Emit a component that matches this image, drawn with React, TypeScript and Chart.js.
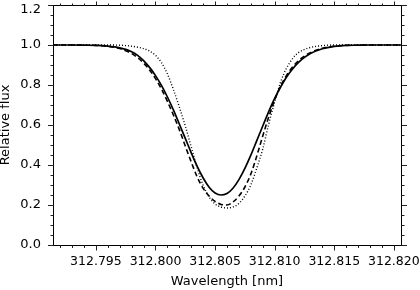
import React, { useEffect, useRef } from 'react';
import { Chart, registerables } from 'chart.js';

Chart.register(...registerables);

const wavelengths = [
  312.7914, 312.792, 312.793, 312.794, 312.795, 312.796, 312.797, 312.7975, 312.798, 312.7985,
  312.799, 312.7995, 312.8, 312.8005, 312.801, 312.8015, 312.802, 312.8025, 312.803, 312.8035,
  312.804, 312.8045, 312.805, 312.8055, 312.806, 312.8065, 312.807, 312.8075, 312.808, 312.8085,
  312.809, 312.8095, 312.81, 312.8105, 312.811, 312.8115, 312.812, 312.8125, 312.813, 312.814,
  312.815, 312.816, 312.817, 312.818, 312.819, 312.82, 312.8206,
];

const fluxSolid = [
  1.0, 1.0, 1.0, 0.999, 0.998, 0.994, 0.986, 0.978, 0.966, 0.948,
  0.922, 0.888, 0.847, 0.798, 0.74, 0.676, 0.605, 0.533, 0.461, 0.393,
  0.335, 0.289, 0.26, 0.25, 0.258, 0.284, 0.327, 0.383, 0.449, 0.522,
  0.595, 0.667, 0.733, 0.79, 0.84, 0.88, 0.913, 0.938, 0.957, 0.981,
  0.993, 0.998, 0.999, 1.0, 1.0, 1.0, 1.0,
];

const fluxDashed = [
  1.0, 1.0, 1.0, 0.999, 0.998, 0.993, 0.982, 0.971, 0.957, 0.937,
  0.91, 0.875, 0.832, 0.78, 0.718, 0.65, 0.577, 0.495, 0.415, 0.34,
  0.283, 0.245, 0.218, 0.203, 0.2, 0.215, 0.245, 0.29, 0.355, 0.445,
  0.545, 0.64, 0.725, 0.795, 0.848, 0.89, 0.922, 0.945, 0.962, 0.984,
  0.994, 0.998, 0.999, 1.0, 1.0, 1.0, 1.0,
];

const fluxDotted = [
  1.0, 1.0, 1.0, 1.0, 1.0, 1.0, 0.999, 0.997, 0.994, 0.989,
  0.982, 0.97, 0.948, 0.912, 0.855, 0.778, 0.69, 0.595, 0.49, 0.385,
  0.298, 0.24, 0.205, 0.19, 0.185, 0.19, 0.208, 0.245, 0.3, 0.385,
  0.48, 0.605, 0.715, 0.815, 0.885, 0.932, 0.962, 0.978, 0.988, 0.997,
  1.0, 1.0, 1.0, 1.0, 1.0, 1.0, 1.0,
];

const xTickValues = [312.795, 312.8, 312.805, 312.81, 312.815, 312.82];
const xTickLabels = ['312.795', '312.800', '312.805', '312.810', '312.815', '312.820'];
const yTickValues = [0, 0.2, 0.4, 0.6, 0.8, 1.0, 1.2];
const yTickLabels = ['0.0', '0.2', '0.4', '0.6', '0.8', '1.0', '1.2'];

const X_MIN = 312.7914;
const X_MAX = 312.8206;
const Y_MIN = 0;
const Y_MAX = 1.2;

const FONT = 'DejaVu Sans';

const frameTicks = {
  id: 'frameTicks',
  afterDraw(chart: any) {
    const { ctx, chartArea: a, scales } = chart;
    const xs = scales.x;
    const ys = scales.y;
    ctx.save();
    ctx.strokeStyle = '#000';
    ctx.lineWidth = 1;
    ctx.strokeRect(a.left + 0.5, a.top + 0.5, a.right - a.left, a.bottom - a.top);
    ctx.strokeStyle = '#222';
    ctx.beginPath();
    for (let i = 0; i <= 28; i++) {
      const v = 312.792 + i * 0.001;
      if (v < X_MIN || v > X_MAX) continue;
      const px = Math.round(xs.getPixelForValue(v)) + 0.5;
      const major = i % 5 === 3;
      const lb = major ? 5 : 2.5;
      const lt = major ? 4 : 2;
      ctx.moveTo(px, a.bottom + 0.5);
      ctx.lineTo(px, a.bottom + 0.5 + lb);
      ctx.moveTo(px, a.top + 0.5);
      ctx.lineTo(px, a.top + 0.5 - lt);
    }
    for (let i = 0; i <= 24; i++) {
      const v = i * 0.05;
      const py = Math.round(ys.getPixelForValue(v)) + 0.5;
      const major = i % 4 === 0;
      const l = major ? 5.5 : 3;
      ctx.moveTo(a.left + 0.5, py);
      ctx.lineTo(a.left + 0.5 - l, py);
      ctx.moveTo(a.right + 0.5, py);
      ctx.lineTo(a.right + 0.5 + l, py);
    }
    ctx.stroke();
    ctx.restore();
  },
};

export default function App() {
  const ref = useRef<HTMLCanvasElement | null>(null);

  useEffect(() => {
    if (!ref.current) return;
    const mk = (arr: number[]) => wavelengths.map((w, i) => ({ x: w, y: arr[i] }));
    const chart = new Chart(ref.current, {
      type: 'line',
      data: {
        datasets: [
          {
            label: 'dotted',
            data: mk(fluxDotted),
            borderColor: '#000',
            borderWidth: 1.4,
            borderDash: [1, 2],
            pointRadius: 0,
            cubicInterpolationMode: 'monotone',
            fill: false,
          },
          {
            label: 'dashed',
            data: mk(fluxDashed),
            borderColor: '#000',
            borderWidth: 1.6,
            borderDash: [5, 3],
            pointRadius: 0,
            cubicInterpolationMode: 'monotone',
            fill: false,
          },
          {
            label: 'solid',
            data: mk(fluxSolid),
            borderColor: '#000',
            borderWidth: 1.7,
            pointRadius: 0,
            cubicInterpolationMode: 'monotone',
            fill: false,
          },
        ],
      },
      options: {
        animation: false,
        responsive: false,
        maintainAspectRatio: false,
        devicePixelRatio: 1,
        layout: { padding: { top: 5, right: 19, left: 0, bottom: 0 } },
        plugins: { legend: { display: false }, tooltip: { enabled: false } },
        scales: {
          x: {
            type: 'linear',
            min: X_MIN,
            max: X_MAX,
            grid: { display: false, drawTicks: false, tickLength: 0 },
            border: { display: false },
            afterBuildTicks: (s: any) => {
              s.ticks = xTickValues.map((v) => ({ value: v }));
            },
            afterFit: (s: any) => {
              s.height = 45;
              s.paddingLeft = 0;
              s.paddingRight = 0;
            },
            ticks: {
              autoSkip: false,
              maxRotation: 0,
              padding: 9,
              color: '#000',
              font: { family: FONT, size: 12.5 },
              callback: (_v: any, i: number) => xTickLabels[i],
            },
            title: {
              display: true,
              text: 'Wavelength [nm]',
              color: '#000',
              font: { family: FONT, size: 13 },
              padding: { top: 0, bottom: 1 },
            },
          },
          y: {
            type: 'linear',
            min: Y_MIN,
            max: Y_MAX,
            grid: { display: false, drawTicks: false, tickLength: 0 },
            border: { display: false },
            afterBuildTicks: (s: any) => {
              s.ticks = yTickValues.map((v) => ({ value: v }));
            },
            afterFit: (s: any) => {
              s.width = 53;
              s.paddingTop = 0;
              s.paddingBottom = 0;
            },
            ticks: {
              autoSkip: false,
              padding: 12,
              color: '#000',
              font: { family: FONT, size: 13, lineHeight: 10 / 13 },
              callback: (_v: any, i: number) =>
                i === yTickLabels.length - 1 ? ['', yTickLabels[i]] : yTickLabels[i],
            },
            title: {
              display: true,
              text: 'Relative flux',
              color: '#000',
              font: { family: FONT, size: 13, lineHeight: 0.85 },
              padding: { top: 0, bottom: 0 },
            },
          },
        },
      },
      plugins: [frameTicks],
    } as any);
    return () => chart.destroy();
  }, []);

  return (
    <div style={{ position: 'fixed', left: 0, top: 0, width: 420, height: 290, background: '#fff' }}>
      <canvas ref={ref} width={420} height={290} style={{ width: 420, height: 290, display: 'block' }} />
    </div>
  );
}
